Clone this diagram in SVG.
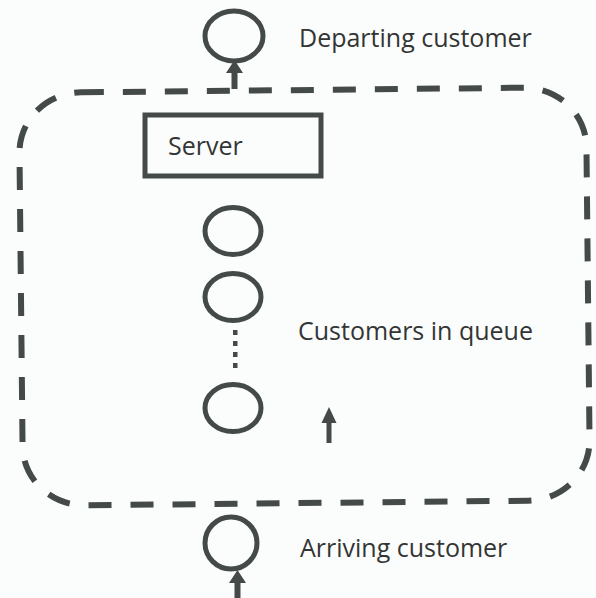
<svg xmlns="http://www.w3.org/2000/svg" width="596" height="598" viewBox="0 0 596 598">
  <style>
    .bg { fill: #fbfdfc; }
    .ring { fill: none; stroke: #444a47; stroke-width: 5; }
    .box { fill: none; stroke: #444a47; stroke-width: 5; }
    .border { fill: none; stroke: #444a47; stroke-width: 6; stroke-dasharray: 23 19; }
    .lbl { font-family: "Open Sans", "Noto Sans", sans-serif; font-size: 25px; fill: #333534; }
    .arrow { fill: #444a47; }
    .dot { fill: #444a47; }
  </style>
  <rect class="bg" x="0" y="0" width="596" height="598"/>

  <g id="system-boundary">
    <rect class="border" x="21" y="90" width="567" height="413" rx="62" ry="60" transform="rotate(-0.6 305 296)"/>
  </g>

  <g id="departing-customer">
    <ellipse class="ring" cx="234" cy="36" rx="29" ry="25"/>
    <text class="lbl" x="299" y="47">Departing customer</text>
  </g>

  <g id="server">
    <rect class="box" x="145" y="115" width="176" height="61"/>
    <text class="lbl" x="168" y="155">Server</text>
  </g>

  <g id="queue">
    <ellipse class="ring" cx="233" cy="231" rx="28" ry="23.5"/>
    <ellipse class="ring" cx="233" cy="297" rx="28" ry="23.5"/>
    <rect class="dot" x="233" y="330" width="4.5" height="5"/>
    <rect class="dot" x="233" y="341" width="4.5" height="5"/>
    <rect class="dot" x="233" y="352" width="4.5" height="5"/>
    <rect class="dot" x="233" y="363" width="4.5" height="5"/>
    <ellipse class="ring" cx="233" cy="408" rx="28" ry="23.5"/>
    <text class="lbl" x="298" y="340">Customers in queue</text>
  </g>

  <g id="arriving-customer">
    <ellipse class="ring" cx="231" cy="543" rx="26" ry="26"/>
    <text class="lbl" x="300" y="557">Arriving customer</text>
  </g>

  <g id="connectors">
    <path class="arrow" d="M231.5,89 L231.5,73 L226,73 L234.5,60 L243,73 L237.5,73 L237.5,89 Z"/>
    <path class="arrow" d="M326.5,443 L326.5,423 L321.5,423 L329,407 L336.5,423 L331.5,423 L331.5,443 Z"/>
    <path class="arrow" d="M234.5,598 L234.5,583 L229,583 L237.5,570 L246,583 L240.5,583 L240.5,598 Z"/>
  </g>
</svg>
